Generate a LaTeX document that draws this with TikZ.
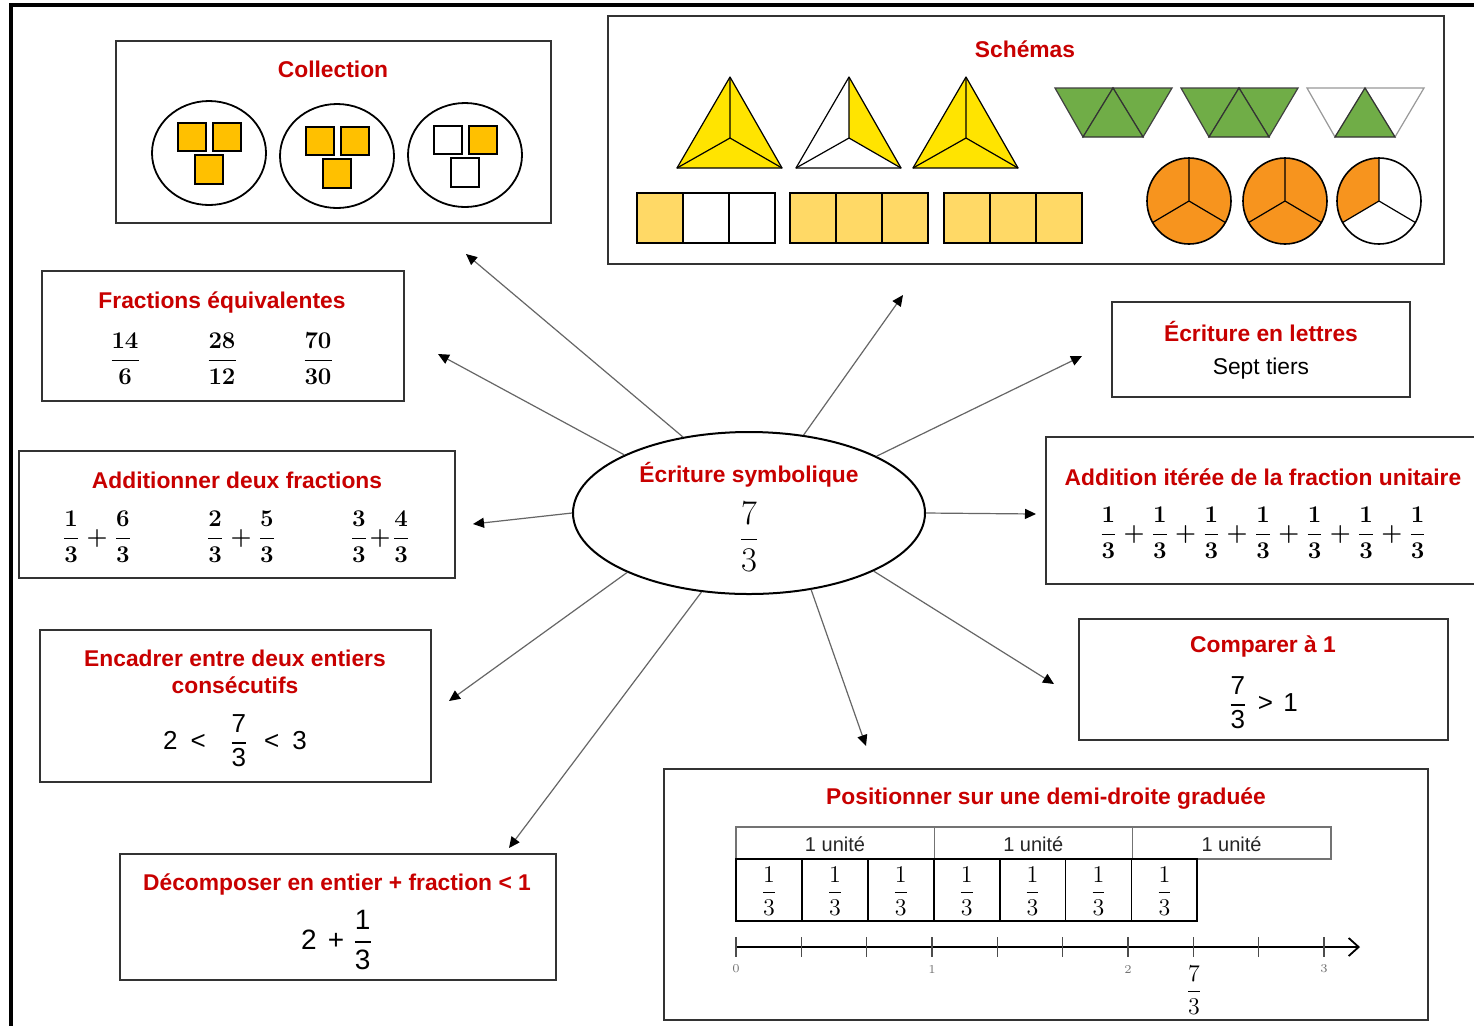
\documentclass[tikz,border=0pt]{standalone}
\usepackage{amsmath}
\usepackage{fontspec}
\setsansfont{Liberation Sans}
\usetikzlibrary{arrows.meta,fit,shapes.geometric}

\definecolor{titlered}{RGB}{200,0,0}
\definecolor{squareorange}{RGB}{255,192,0}
\definecolor{triyellow}{RGB}{255,228,0}
\definecolor{trapgreen}{RGB}{112,173,71}
\definecolor{stripyellow}{RGB}{255,217,102}
\definecolor{pieorange}{RGB}{247,148,30}

% serif fraction with a heavier bar, and its sans-serif variant
\newcommand{\frc}[2]{\genfrac{}{}{0.8pt}{0}{#1}{#2}}
\newcommand{\sfrc}[2]{\(\genfrac{}{}{0.8pt}{0}{\textsf{#1}}{\textsf{#2}}\)}

\begin{document}
\begin{tikzpicture}[
  x=0.5pt, y=-0.5pt,
  font=\sffamily,
  box/.style={draw=black!80, line width=1pt, inner sep=0pt},
  title/.style={font=\sffamily\bfseries\fontsize{11.4}{13.5}\selectfont, text=titlered, inner sep=0pt, align=center},
  plain/.style={font=\sffamily\fontsize{11.4}{13.5}\selectfont, inner sep=0pt},
  mtxt/.style={font=\sffamily\fontsize{13}{15}\selectfont, inner sep=0pt},
  bmtxt/.style={font=\fontsize{13}{15}\selectfont\boldmath, inner sep=0pt},
  conn/.style={draw=black!60, line width=0.6pt, -{Triangle[length=5.5pt,width=5pt,color=black]}},
  shapeline/.style={draw=black, line width=0.6pt},
]
\useasboundingbox (0,0) rectangle (1474,1025);
\fill[white] (0,0) rectangle (1474,1025);

% outer frame
\draw[line width=1.6pt] (11,1030) -- (11,5) -- (1480,5);

% ---------- central ellipse ----------
\node[draw=black, line width=1pt, ellipse, minimum width=176pt, minimum height=81pt, inner sep=0pt] (sym) at (749,513) {};
\node[title] (sym-t) at (749,475) {Écriture symbolique};
\node[mtxt, font=\fontsize{16.5}{18}\selectfont] (sym-f) at (749,537) {$\frc{7}{3}$};

% ---------- Collection ----------
\node[box, fit={(116,41)(551,223)}] (coll) {};
\node[title] (coll-t) at (333,69) {Collection};
\foreach \cx/\cy/\sx/\sy/\fa/\fb/\fc in {209/153/209/155/squareorange/squareorange/squareorange,
                                 337/156/337/159/squareorange/squareorange/squareorange,
                                 465/155/465/158/white/squareorange/white}{
  \draw[line width=0.9pt] (\cx,\cy) ellipse [x radius=28.5pt, y radius=26pt];
  \filldraw[fill=\fa, draw=black, line width=0.9pt] ({\sx-31},{\sy-32}) rectangle ({\sx-3},{\sy-4});
  \filldraw[fill=\fb, draw=black, line width=0.9pt] ({\sx+4},{\sy-32}) rectangle ({\sx+32},{\sy-4});
  \filldraw[fill=\fc, draw=black, line width=0.9pt] ({\sx-14},{\sy}) rectangle ({\sx+14},{\sy+29});
}

% ---------- Schémas ----------
\node[box, fit={(608,16)(1444,264)}] (sch) {};
\node[title] (sch-t) at (1025,49) {Schémas};
% triangles cut in three from the centre
\foreach \ax/\fa/\fb/\fc in {730/triyellow/triyellow/triyellow, 849/white/triyellow/white, 966/triyellow/triyellow/triyellow}{
  \fill[\fa] (\ax,77) -- ({\ax-53},168) -- (\ax,138) -- cycle;
  \fill[\fb] (\ax,77) -- ({\ax+52},168) -- (\ax,138) -- cycle;
  \fill[\fc] ({\ax-53},168) -- ({\ax+52},168) -- (\ax,138) -- cycle;
  \draw[shapeline, line join=round] (\ax,77) -- ({\ax-53},168) -- ({\ax+52},168) -- cycle;
  \draw[shapeline] (\ax,77) -- (\ax,138) ({\ax-53},168) -- (\ax,138) -- ({\ax+52},168);
}
% trapezoids made of three triangles
\foreach \tx/\fa/\fb/\fc/\la/\lc in {1055/trapgreen/trapgreen/trapgreen/black!75/black!75,
                                    1181/trapgreen/trapgreen/trapgreen/black!75/black!75,
                                    1307/white/trapgreen/white/black!40/black!40}{
  \filldraw[fill=\fa, draw=\la, line width=0.6pt] (\tx,88) -- ({\tx+58},88) -- ({\tx+28},137) -- cycle;
  \filldraw[fill=\fc, draw=\lc, line width=0.6pt] ({\tx+58},88) -- ({\tx+117},88) -- ({\tx+88},137) -- cycle;
  \filldraw[fill=\fb, draw=black!80, line width=0.6pt] ({\tx+28},137) -- ({\tx+58},88) -- ({\tx+88},137) -- cycle;
}
% strips of three cells
\foreach \sx/\n in {637/1, 790/3, 944/3}{
  \foreach \k in {0,1,2}{
    \ifnum\k<\n
      \filldraw[fill=stripyellow, draw=black, line width=0.8pt] ({\sx+46*\k},193) rectangle ({\sx+46*(\k+1)},243);
    \else
      \filldraw[fill=white, draw=black, line width=0.8pt] ({\sx+46*\k},193) rectangle ({\sx+46*(\k+1)},243);
    \fi
  }
}
% discs cut in three
\foreach \px/\full in {1189/1, 1285/1, 1379/0}{
  \ifnum\full=1
    \fill[pieorange] (\px,201) ellipse [x radius=21pt, y radius=21.5pt];
  \else
    \fill[white] (\px,201) ellipse [x radius=21pt, y radius=21.5pt];
    \fill[pieorange] (\px,201) -- ++(90:21pt and 21.5pt) arc [start angle=90, end angle=210, x radius=21pt, y radius=21.5pt] -- cycle;
  \fi
  \draw[shapeline, line width=0.8pt] (\px,201) ellipse [x radius=21pt, y radius=21.5pt];
  \draw[shapeline] (\px,201) -- ++(90:21pt and 21.5pt)
                   (\px,201) -- ++(210:21pt and 21.5pt)
                   (\px,201) -- ++(330:21pt and 21.5pt);
}

% ---------- Fractions équivalentes ----------
\node[box, fit={(42,271)(404,401)}] (equ) {};
\node[title] (equ-t) at (222,302) {Fractions équivalentes};
\node[bmtxt] (equ-a) at (125,359) {$\frc{14}{6}$};
\node[bmtxt] (equ-b) at (222,359) {$\frc{28}{12}$};
\node[bmtxt] (equ-c) at (318,359) {$\frc{70}{30}$};

% ---------- Écriture en lettres ----------
\node[box, fit={(1112,302)(1410,397)}] (let) {};
\node[title] (let-t) at (1261,331) {Écriture en lettres};
\node[plain] (let-x) at (1261,369) {Sept tiers};

% ---------- Additionner deux fractions ----------
\node[box, fit={(19,451)(455,578)}] (add) {};
\node[title] (add-t) at (237,480) {Additionner deux fractions};
\node[bmtxt] (add-a) at (97,537) {$\frc13+\frc63$};
\node[bmtxt] (add-b) at (241,537) {$\frc23+\frc53$};
\node[bmtxt] (add-c) at (380,537) {$\frc33\!+\!\frc43$};

% ---------- Addition itérée ----------
\node[box, fit={(1046,437)(1478,584)}] (ite) {};
\node[title] (ite-t) at (1263,477) {Addition itérée de la fraction unitaire};
\node[bmtxt] (ite-s) at (1263,533) {$\frc13+\frc13+\frc13+\frc13+\frc13+\frc13+\frc13$};

% ---------- Encadrer ----------
\node[box, fit={(40,630)(431,782)}] (enc) {};
\node[title] (enc-t) at (235,672) {Encadrer entre deux entiers\\consécutifs};
\node[mtxt] (enc-m) at (235,741) {2\hspace{0.5em}<\hspace{0.9em}\sfrc73\hspace{0.6em}<\hspace{0.5em}3};

% ---------- Comparer à 1 ----------
\node[box, fit={(1079,619)(1448,740)}] (cmp) {};
\node[title] (cmp-t) at (1263,646) {Comparer à 1};
\node[mtxt] (cmp-m) at (1263,703) {\sfrc73\hspace{0.4em}>\hspace{0.4em}1};

% ---------- Décomposer ----------
\node[box, fit={(120,854)(556,980)}] (dec) {};
\node[title] (dec-t) at (337,884) {Décomposer en entier + fraction < 1};
\node[mtxt, font=\sffamily\fontsize{14}{16}\selectfont] (dec-m) at (337,940) {2\hspace{0.4em}+\hspace{0.3em}\sfrc13};

% ---------- Positionner sur une demi-droite ----------
\node[box, fit={(664,769)(1428,1020)}] (pos) {};
\node[title] (pos-t) at (1046,799) {Positionner sur une demi-droite graduée};
\foreach \k in {0,1,2}{
  \draw[black!55, line width=0.6pt] ({736+198.3*\k},827) rectangle ({736+198.3*(\k+1)},859);
  \node[font=\sffamily\fontsize{10}{12}\selectfont, text=black!85, inner sep=0pt] (u\k) at ({835+198.3*\k},844) {1 unité};
}
\foreach \k in {0,...,6}{
  \draw[black, line width=0.9pt] ({736+65.9*\k},859) rectangle ({736+65.9*(\k+1)},921);
  \node[mtxt, font=\fontsize{12}{14}\selectfont] (c\k) at ({769+65.9*\k},891) {$\frc13$};
}
\draw[line width=0.9pt, -{Straight Barb[length=5pt, width=9pt, line width=0.9pt]}] (736,947) -- (1360,947);
\foreach \k in {0,...,9}{
  \draw[black!70, line width=0.6pt] ({736+65.33*\k},937) -- ({736+65.33*\k},957);
}
\foreach \k in {0,1,2,3}{
  \node[font=\fontsize{6}{7}\selectfont, text=black!55, inner sep=0pt] (g\k) at ({736+196*\k},969) {\k};
}
\node[mtxt, font=\fontsize{12}{14}\selectfont] (pos-f) at (1194,990) {$\frc73$};

% ---------- connectors ----------
\coordinate (e-coll) at (466,254);
\coordinate (e-sch)  at (903,295);
\coordinate (e-equ)  at (438,354);
\coordinate (e-let)  at (1082,356);
\coordinate (e-add)  at (473,524);
\coordinate (e-ite)  at (1036,514);
\coordinate (e-enc)  at (449,701);
\coordinate (e-cmp)  at (1054,684);
\coordinate (e-dec)  at (509,848);
\coordinate (e-pos)  at (866,746);

\draw[conn] (sym.131) -- (e-coll);
\draw[conn] (sym.55)  -- (e-sch);
\draw[conn] (sym.155) -- (e-equ);
\draw[conn] (sym.24)  -- (e-let);
\draw[conn] (sym.180) -- (e-add);
\draw[conn] (sym.0)   -- (e-ite);
\draw[conn] (sym.206) -- (e-enc);
\draw[conn] (sym.335) -- (e-cmp);
\draw[conn] (sym.239) -- (e-dec);
\draw[conn] (sym.309) -- (e-pos);
\end{tikzpicture}
\end{document}
